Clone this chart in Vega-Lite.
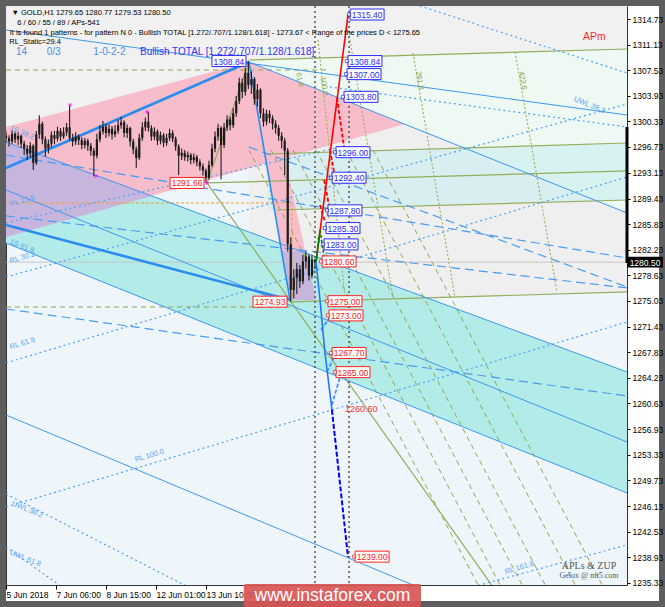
{
"$schema": "https://vega.github.io/schema/vega-lite/v6.json",
"width": 621, "height": 579,
"autosize": {"type": "none"},
"padding": {"left": 6, "top": 6, "right": 38, "bottom": 22},
"background": "#ffffff",
"config": {"view": {"stroke": "#333333", "strokeWidth": 1, "fill": "#eef6fc"}, "font": "Liberation Sans", "text": {"font": "Liberation Sans"},
 "axisX": {"labelOverlap": false, "grid": false, "domain": false, "labelFontSize": 8.5, "labelFont": "Liberation Sans", "labelColor": "#000000", "tickColor": "#000000", "tickSize": 4, "labelBound": false, "labelFlush": false, "labelAlign": "left", "labelPadding": 1},
 "axisY": {"labelOverlap": false, "grid": false, "domain": false, "labelFontSize": 8.5, "labelFont": "Liberation Sans", "labelColor": "#000000", "tickColor": "#000000", "tickSize": 3, "labelBound": false, "labelFlush": false, "labelPadding": 2}},
"datasets": {
"bgGray": [{"i":0,"top":1316.6,"bot":1299.55},{"i":160.4,"top":1316.6,"bot":1308.71},{"i":410,"top":1316.6,"bot":1310.54}],
"bandGray": [{"i":160.4,"top":1308.99,"bot":1274.71},{"i":410,"top":1310.54,"bot":1276.30}],
"mint": [{"i":160.4,"top":1308.99,"bot":1308.71},{"i":410,"top":1310.54,"bot":1287.43}],
"cyanLight": [{"i":172.3,"top":1295.74,"bot":1287.80},{"i":410,"top":1297.29,"bot":1289.26}],
"cyanBand": [{"i":0,"top":1297.43,"bot":1283.20},{"i":410,"top":1265.02,"bot":1247.97}],
"pink": [{"i":0,"top":1299.55,"bot":1284.05},{"i":160.4,"top":1308.71,"bot":1293.74},{"i":263.4,"top":1299.97,"bot":1299.97}],
"pinkStrip": [{"p":1295.74,"x1":170.9,"x2":183.5},{"p":1275.17,"x1":187.5,"x2":204.7}],
"purple": [{"i":0,"top":1297.43,"bot":1284.05},{"i":96.4,"top":1289.83,"bot":1289.83}],
"purpleStrip": [{"p":1282.07,"x1":181.9,"x2":197.6},{"p":1275.17,"x1":187.5,"x2":204.7}],
"blueSolid": [
{"g":"b1","i":0,"p":1313.22},{"g":"b1","i":410,"p":1301.24},
{"g":"b2","i":160.4,"p":1308.71},{"g":"b2","i":410,"p":1287.43},
{"g":"b3","i":0,"p":1297.43},{"g":"b3","i":410,"p":1265.02},
{"g":"b4","i":0,"p":1283.20},{"g":"b4","i":410,"p":1247.97},
{"g":"b5","i":0,"p":1290.67},{"g":"b5","i":410,"p":1255.16},
{"g":"b6","i":0,"p":1258.96},{"g":"b6","i":279.9,"p":1234.0}],
"patternBlue": [{"g":"pb","i":160.4,"p":1308.71},{"g":"pb","i":187.5,"p":1275.17}],
"thickBlue": [{"g":"t1","i":0,"p":1293.77},{"g":"t1","i":160.4,"p":1308.71},{"g":"t2","i":0,"p":1285.74},{"g":"t2","i":187.5,"p":1275.17}],
"blueDashed": [
{"g":"d1","i":0,"p":1273.90},{"g":"d1","i":410,"p":1261.64},
{"g":"d2","i":0,"p":1287.01},{"g":"d2","i":410,"p":1276.86},
{"g":"d3","i":0,"p":1295.60},{"g":"d3","i":410,"p":1281.09},
{"g":"d4","i":160.4,"p":1296.73},{"g":"d4","i":410,"p":1277.00}],
"blueDotted": [
{"g":"r0","i":0,"p":1286.02},{"g":"r0","i":220.5,"p":1296.73},
{"g":"r1","i":0,"p":1278.41},{"g":"r1","i":410,"p":1302.79},
{"g":"r2","i":0,"p":1266.30},{"g":"r2","i":410,"p":1292.50},
{"g":"r3","i":0,"p":1246.00},{"g":"r3","i":410,"p":1272.07},
{"g":"r4","i":193.9,"p":1228.1},{"g":"r4","i":410,"p":1240.65},
{"g":"u1","i":213.9,"p":1305.19},{"g":"u1","i":410,"p":1299.55},
{"g":"u2","i":273.3,"p":1316.6},{"g":"u2","i":410,"p":1307.16},
{"g":"u3","i":0,"p":1247.83},{"g":"u3","i":133.4,"p":1233.30},
{"g":"u4","i":0,"p":1240.37},{"g":"u4","i":46.2,"p":1233.30}],
"oliveSolid": [
{"g":"G1","i":160.4,"p":1308.99},{"g":"G1","i":410,"p":1310.54},
{"g":"G2","i":172.3,"p":1295.74},{"g":"G2","i":410,"p":1297.29},
{"g":"G3","i":132.7,"p":1291.66},{"g":"G3","i":410,"p":1293.35},
{"g":"G4","i":178.9,"p":1287.85},{"g":"G4","i":410,"p":1289.26},
{"g":"G5","i":187.5,"p":1274.89},{"g":"G5","i":410,"p":1276.30},
{"g":"O1","i":132.7,"p":1291.66},{"g":"O1","i":321.5,"p":1234.73},
{"g":"O2","i":132.7,"p":1291.66},{"g":"O2","i":160.4,"p":1308.71}],
"oliveDashed": [
{"g":"OD1","i":0,"p":1307.58},{"g":"OD1","i":213.9,"p":1307.58},
{"g":"OD2","i":0,"p":1274.18},{"g":"OD2","i":187.5,"p":1274.18},
{"g":"F1","i":160.4,"p":1296.31},{"g":"F1","i":316.9,"p":1232.89},
{"g":"F2","i":175.0,"p":1296.31},{"g":"F2","i":331.4,"p":1232.89},
{"g":"F3","i":189.5,"p":1296.31},{"g":"F3","i":346.0,"p":1232.89},
{"g":"F4","i":204.7,"p":1296.31},{"g":"F4","i":361.2,"p":1232.89},
{"g":"F5","i":224.5,"p":1296.31},{"g":"F5","i":381.0,"p":1232.89},
{"g":"F6","i":242.3,"p":1296.31},{"g":"F6","i":398.8,"p":1232.89}],
"oliveDotted": [
{"g":"V1","i":206.0,"p":1311.81},{"g":"V1","i":223.8,"p":1275.59},
{"g":"V2","i":227.1,"p":1311.81},{"g":"V2","i":255.5,"p":1275.59},
{"g":"V3","i":268.7,"p":1309.98},{"g":"V3","i":296.4,"p":1275.59},
{"g":"V4","i":336.1,"p":1310.12},{"g":"V4","i":363.8,"p":1276.30}],
"orangeDashed": [{"g":"h","i":0,"p":1288.84},{"g":"h","i":188.8,"p":1288.84},{"g":"v","i":188.8,"p":1288.84},{"g":"v","i":188.8,"p":1275.17}],
"projRed": [{"g":"a","i":204.7,"p":1280.52},{"g":"a","i":225.8,"p":1315.33}],
"projRedDash": [
{"g":"a","i":218.5,"p":1303.64},{"g":"a","i":223.2,"p":1296.73},
{"g":"b","i":213.9,"p":1296.31},{"g":"b","i":217.2,"p":1292.50},
{"g":"c","i":210.0,"p":1292.08},{"g":"c","i":213.2,"p":1288.56},
{"g":"d","i":207.3,"p":1288.56},{"g":"d","i":210.6,"p":1286.16}],
"projGreen": [{"g":"a","i":204.7,"p":1280.52},{"g":"a","i":207.3,"p":1285.03}],
"projGreenDash": [{"g":"a","i":207.3,"p":1285.03},{"g":"a","i":210.6,"p":1280.52}],
"projBlue": [{"g":"a","i":204.7,"p":1280.52},{"g":"a","i":207.3,"p":1275.17},{"g":"a","i":210.6,"p":1267.70},{"g":"a","i":215.2,"p":1259.67}],
"projBlueDash": [
{"g":"a","i":208.0,"p":1270.94},{"g":"a","i":213.9,"p":1272.77},
{"g":"b","i":211.9,"p":1265.02},{"g":"b","i":217.2,"p":1267.42},
{"g":"c","i":215.2,"p":1260.37},{"g":"c","i":220.5,"p":1264.32}],
"projDarkBlue": [{"g":"a","i":215.2,"p":1259.67},{"g":"a","i":225.8,"p":1238.95}],
"vlines": [{"i":204.0},{"i":226.5}],
"extremes": [{"i":42.3,"p":1302.65},{"i":59.4,"p":1292.64},{"i":93.1,"p":1301.66},{"i":132.7,"p":1291.66}],
"candles": [
{"i":0,"o":1298.3,"h":1298.9,"l":1297.4,"c":1298.0},
{"i":2,"o":1298.0,"h":1298.4,"l":1296.8,"c":1297.5},
{"i":4,"o":1297.5,"h":1299.1,"l":1297.2,"c":1298.6},
{"i":6,"o":1298.6,"h":1298.9,"l":1297.3,"c":1297.8},
{"i":8,"o":1297.8,"h":1298.8,"l":1297.0,"c":1298.3},
{"i":10,"o":1298.3,"h":1298.5,"l":1296.6,"c":1297.2},
{"i":12,"o":1297.2,"h":1297.6,"l":1295.6,"c":1296.5},
{"i":14,"o":1296.5,"h":1297.0,"l":1294.9,"c":1295.8},
{"i":16,"o":1295.8,"h":1297.4,"l":1295.2,"c":1296.9},
{"i":18,"o":1296.9,"h":1297.1,"l":1293.5,"c":1294.5},
{"i":20,"o":1294.5,"h":1299.0,"l":1294.2,"c":1298.5},
{"i":22,"o":1298.5,"h":1301.2,"l":1297.9,"c":1300.0},
{"i":24,"o":1300.0,"h":1300.3,"l":1297.1,"c":1297.8},
{"i":26,"o":1297.8,"h":1298.2,"l":1295.4,"c":1296.5},
{"i":28,"o":1296.5,"h":1297.8,"l":1295.8,"c":1297.2},
{"i":30,"o":1297.2,"h":1298.9,"l":1296.7,"c":1298.4},
{"i":32,"o":1298.4,"h":1299.0,"l":1297.1,"c":1297.9},
{"i":34,"o":1297.9,"h":1299.6,"l":1297.5,"c":1299.0},
{"i":36,"o":1299.0,"h":1299.4,"l":1297.6,"c":1298.2},
{"i":38,"o":1298.2,"h":1299.5,"l":1297.9,"c":1298.8},
{"i":40,"o":1298.8,"h":1300.1,"l":1298.3,"c":1299.5},
{"i":42,"o":1299.5,"h":1302.6,"l":1297.6,"c":1298.0},
{"i":44,"o":1298.0,"h":1298.6,"l":1296.8,"c":1297.5},
{"i":46,"o":1297.5,"h":1298.8,"l":1297.0,"c":1298.2},
{"i":48,"o":1298.2,"h":1298.5,"l":1297.0,"c":1297.7},
{"i":50,"o":1297.7,"h":1298.1,"l":1296.4,"c":1297.0},
{"i":52,"o":1297.0,"h":1298.0,"l":1296.5,"c":1297.6},
{"i":54,"o":1297.6,"h":1297.9,"l":1296.2,"c":1296.9},
{"i":56,"o":1296.9,"h":1297.3,"l":1295.5,"c":1296.2},
{"i":58,"o":1296.2,"h":1296.6,"l":1292.6,"c":1295.5},
{"i":60,"o":1295.5,"h":1298.6,"l":1295.1,"c":1297.8},
{"i":62,"o":1297.8,"h":1299.8,"l":1297.4,"c":1298.9},
{"i":64,"o":1298.9,"h":1300.4,"l":1298.5,"c":1299.6},
{"i":66,"o":1299.6,"h":1300.0,"l":1298.0,"c":1298.7},
{"i":68,"o":1298.7,"h":1299.9,"l":1298.2,"c":1299.3},
{"i":70,"o":1299.3,"h":1299.7,"l":1297.8,"c":1298.5},
{"i":72,"o":1298.5,"h":1299.8,"l":1298.1,"c":1299.0},
{"i":74,"o":1299.0,"h":1300.6,"l":1298.6,"c":1299.8},
{"i":76,"o":1299.8,"h":1301.0,"l":1299.3,"c":1300.2},
{"i":78,"o":1300.2,"h":1300.5,"l":1298.1,"c":1298.7},
{"i":80,"o":1298.7,"h":1299.9,"l":1298.0,"c":1299.4},
{"i":82,"o":1299.4,"h":1299.6,"l":1296.8,"c":1297.5},
{"i":84,"o":1297.5,"h":1297.9,"l":1295.7,"c":1296.4},
{"i":86,"o":1296.4,"h":1296.8,"l":1293.8,"c":1295.2},
{"i":88,"o":1295.2,"h":1298.6,"l":1294.9,"c":1298.0},
{"i":90,"o":1298.0,"h":1300.2,"l":1297.6,"c":1299.5},
{"i":92,"o":1299.5,"h":1300.9,"l":1299.0,"c":1300.3},
{"i":94,"o":1300.3,"h":1301.7,"l":1298.9,"c":1299.4},
{"i":96,"o":1299.4,"h":1299.8,"l":1297.6,"c":1298.2},
{"i":98,"o":1298.2,"h":1299.5,"l":1297.7,"c":1298.9},
{"i":100,"o":1298.9,"h":1299.2,"l":1297.0,"c":1297.6},
{"i":102,"o":1297.6,"h":1298.9,"l":1297.1,"c":1298.4},
{"i":104,"o":1298.4,"h":1298.7,"l":1296.7,"c":1297.3},
{"i":106,"o":1297.3,"h":1298.6,"l":1296.9,"c":1298.0},
{"i":108,"o":1298.0,"h":1299.3,"l":1297.6,"c":1298.7},
{"i":110,"o":1298.7,"h":1299.1,"l":1297.4,"c":1297.9},
{"i":112,"o":1297.9,"h":1298.2,"l":1296.2,"c":1296.8},
{"i":114,"o":1296.8,"h":1297.1,"l":1292.8,"c":1295.5},
{"i":116,"o":1295.5,"h":1296.5,"l":1294.9,"c":1295.9},
{"i":118,"o":1295.9,"h":1296.3,"l":1294.8,"c":1295.3},
{"i":120,"o":1295.3,"h":1296.1,"l":1294.7,"c":1295.6},
{"i":122,"o":1295.6,"h":1295.9,"l":1294.3,"c":1294.9},
{"i":124,"o":1294.9,"h":1295.8,"l":1294.4,"c":1295.3},
{"i":126,"o":1295.3,"h":1295.6,"l":1294.0,"c":1294.6},
{"i":128,"o":1294.6,"h":1295.0,"l":1293.4,"c":1294.0},
{"i":130,"o":1294.0,"h":1294.4,"l":1292.7,"c":1293.4},
{"i":132,"o":1293.4,"h":1293.7,"l":1291.66,"c":1292.4},
{"i":134,"o":1292.4,"h":1294.8,"l":1292.1,"c":1294.2},
{"i":136,"o":1294.2,"h":1297.2,"l":1293.9,"c":1296.5},
{"i":138,"o":1296.5,"h":1298.9,"l":1296.0,"c":1298.2},
{"i":140,"o":1298.2,"h":1300.0,"l":1297.6,"c":1299.4},
{"i":142,"o":1299.4,"h":1299.7,"l":1292.2,"c":1297.0},
{"i":144,"o":1297.0,"h":1300.1,"l":1296.6,"c":1299.5},
{"i":146,"o":1299.5,"h":1301.2,"l":1299.0,"c":1300.6},
{"i":148,"o":1300.6,"h":1301.0,"l":1299.1,"c":1299.8},
{"i":150,"o":1299.8,"h":1302.2,"l":1299.4,"c":1301.5},
{"i":152,"o":1301.5,"h":1303.9,"l":1301.0,"c":1303.2},
{"i":154,"o":1303.2,"h":1306.5,"l":1302.8,"c":1305.8},
{"i":156,"o":1305.8,"h":1306.4,"l":1303.6,"c":1304.5},
{"i":158,"o":1304.5,"h":1307.9,"l":1304.0,"c":1307.2},
{"i":160,"o":1307.2,"h":1308.84,"l":1304.9,"c":1305.5},
{"i":162,"o":1305.5,"h":1307.4,"l":1304.2,"c":1306.3},
{"i":164,"o":1306.3,"h":1306.6,"l":1302.7,"c":1303.5},
{"i":166,"o":1303.5,"h":1305.6,"l":1302.4,"c":1304.8},
{"i":168,"o":1304.8,"h":1305.0,"l":1300.8,"c":1301.5},
{"i":170,"o":1301.5,"h":1302.2,"l":1299.6,"c":1300.3},
{"i":172,"o":1300.3,"h":1302.0,"l":1299.8,"c":1301.4},
{"i":174,"o":1301.4,"h":1301.9,"l":1300.1,"c":1300.8},
{"i":176,"o":1300.8,"h":1301.2,"l":1299.2,"c":1300.0},
{"i":178,"o":1300.0,"h":1300.5,"l":1298.6,"c":1299.4},
{"i":180,"o":1299.4,"h":1299.8,"l":1297.6,"c":1298.3},
{"i":182,"o":1298.3,"h":1298.8,"l":1296.5,"c":1297.6},
{"i":184,"o":1297.6,"h":1298.0,"l":1292.8,"c":1296.2},
{"i":186,"o":1296.2,"h":1296.6,"l":1282.0,"c":1283.0},
{"i":188,"o":1283.0,"h":1284.0,"l":1274.93,"c":1276.6},
{"i":190,"o":1276.6,"h":1279.5,"l":1275.4,"c":1278.3},
{"i":192,"o":1278.3,"h":1280.4,"l":1276.0,"c":1279.5},
{"i":194,"o":1279.5,"h":1280.1,"l":1276.9,"c":1277.8},
{"i":196,"o":1277.8,"h":1281.5,"l":1277.4,"c":1280.6},
{"i":198,"o":1280.6,"h":1282.0,"l":1279.6,"c":1281.3},
{"i":200,"o":1281.3,"h":1281.6,"l":1277.9,"c":1278.6},
{"i":202,"o":1278.6,"h":1281.5,"l":1278.2,"c":1280.9},
{"i":204,"o":1280.9,"h":1280.8,"l":1279.5,"c":1280.5}],
"targets": [
{"i":226.5,"p":1315.40,"dir":"up"},
{"i":225.1,"p":1308.84,"dir":"up"},
{"i":224.5,"p":1307.00,"dir":"up"},
{"i":222.5,"p":1303.80,"dir":"up"},
{"i":217.2,"p":1296.00,"dir":"up"},
{"i":214.6,"p":1292.40,"dir":"up"},
{"i":211.9,"p":1287.80,"dir":"up"},
{"i":210.6,"p":1285.30,"dir":"up"},
{"i":209.3,"p":1283.00,"dir":"up"},
{"i":208.0,"p":1280.60,"dir":"down"},
{"i":211.9,"p":1275.00,"dir":"down"},
{"i":212.6,"p":1273.00,"dir":"down"},
{"i":214.6,"p":1267.70,"dir":"down"},
{"i":217.2,"p":1265.00,"dir":"down"},
{"i":229.8,"p":1239.00,"dir":"down"}],
"pivots": [
{"i":159.1,"p":1308.84,"dir":"up"},
{"i":131.4,"p":1291.66,"dir":"down"},
{"i":186.2,"p":1274.93,"dir":"down"}],
"hdr": [
{"t":"\u25bc  GOLD,H1  1279.65 1280.77 1279.53 1280.50","i":3.6,"p":1315.62},
{"t":"6 / 60 / 55 / 89 / APs-541","i":7.5,"p":1314.16},
{"t":"It is found 1 patterns  -  for pattern N 0 - Bullish TOTAL [1.272/.707/1.128/1.618] - 1273.67 < Range of the prices D < 1275.65","i":2.4,"p":1312.84},
{"t":"RL_Static=29.4","i":2.2,"p":1311.57}],
"hdrBlue": [{"t":"14","i":6.6,"p":1310.16},{"t":"0/3","i":26.9,"p":1310.16},{"t":"1-0-2-2","i":57.6,"p":1310.16}],
"hdrTotal": [{"t":"Bullish TOTAL [1.272/.707/1.128/1.618]","i":88.5,"p":1310.16}],
"riseLabels": [{"t":"RL 23.6","i":2.6,"p":1288.6},{"t":"RL 30.2","i":2.6,"p":1280.6},{"t":"RL 61.8","i":2.6,"p":1268.5},{"t":"RL 100.0","i":85.2,"p":1252.6},{"t":"RL 161.8","i":329.5,"p":1236.8}],
"fallLabels": [{"t":"1S 38.2","i":2.6,"p":1299.4},{"t":"1S 61.8","i":2.6,"p":1283.4},{"t":"UWL 38.2","i":4.0,"p":1246.5},{"t":"UWL 61.8","i":2.6,"p":1239.6},{"t":"UWL 38.2","i":375.0,"p":1303.5}],
"zoneLabels": [{"t":"61.8","i":193.0,"p":1307.2},{"t":"100.0","i":209.0,"p":1306.6},{"t":"261.8","i":272.0,"p":1307.4},{"t":"423.6","i":340.0,"p":1307.4}]
},
"layer": [
{"data":{"name":"bgGray"},"mark":{"type":"area","color":"#f1f1f1","clip":true},
 "encoding":{
  "x":{"field":"i","type":"quantitative","title":null,"scale":{"domain":[0,410],"nice":false,"zero":false},
   "axis":{"orient":"bottom","values":[0,33,66,99,132],"tickCount":20,"labelExpr":"datum.value == 0 ? '5 Jun 2018' : datum.value == 33 ? '7 Jun 06:00' : datum.value == 66 ? '8 Jun 15:00' : datum.value == 99 ? '12 Jun 01:00' : '13 Jun 10:00'","labelAlign":"left","labelOverlap":false,"grid":false,"domain":false,"title":null,"zindex":0}},
  "y":{"field":"top","type":"quantitative","title":null,"stack":null,"scale":{"domain":[1235,1316.6],"nice":false,"zero":false},
   "axis":{"orient":"right","values":[1314.73,1311.13,1307.53,1303.93,1300.33,1296.73,1293.13,1289.43,1285.83,1282.23,1278.63,1275.03,1271.43,1267.83,1264.23,1260.63,1256.93,1253.33,1249.73,1246.13,1242.53,1238.93,1235.33],"tickCount":40,"format":".2f","labelOverlap":false,"grid":false,"domain":false,"title":null,"zindex":1}},
  "y2":{"field":"bot"}}},
{"data":{"name":"bandGray"},"mark":{"type":"area","color":"#efefef","clip":true},
 "encoding":{"x":{"field":"i","type":"quantitative","title":null,"scale":{"domain":[0,410],"nice":false,"zero":false}},"y":{"field":"top","type":"quantitative","title":null,"stack":null,"scale":{"domain":[1235,1316.6],"nice":false,"zero":false}},"y2":{"field":"bot"}}},
{"data":{"name":"mint"},"mark":{"type":"area","color":"#edf9f2","clip":true},
 "encoding":{"x":{"field":"i","type":"quantitative","title":null,"scale":{"domain":[0,410],"nice":false,"zero":false}},"y":{"field":"top","type":"quantitative","title":null,"stack":null,"scale":{"domain":[1235,1316.6],"nice":false,"zero":false}},"y2":{"field":"bot"}}},
{"data":{"name":"cyanLight"},"mark":{"type":"area","color":"#c9ecf2","opacity":0.6,"clip":true},
 "encoding":{"x":{"field":"i","type":"quantitative","title":null,"scale":{"domain":[0,410],"nice":false,"zero":false}},"y":{"field":"top","type":"quantitative","title":null,"stack":null,"scale":{"domain":[1235,1316.6],"nice":false,"zero":false}},"y2":{"field":"bot"}}},
{"data":{"name":"cyanBand"},"mark":{"type":"area","color":"#b2ebe7","clip":true},
 "encoding":{"x":{"field":"i","type":"quantitative","title":null,"scale":{"domain":[0,410],"nice":false,"zero":false}},"y":{"field":"top","type":"quantitative","title":null,"stack":null,"scale":{"domain":[1235,1316.6],"nice":false,"zero":false}},"y2":{"field":"bot"}}},
{"data":{"name":"pink"},"mark":{"type":"area","color":"#f8bdcb","clip":true},
 "encoding":{"x":{"field":"i","type":"quantitative","title":null,"scale":{"domain":[0,410],"nice":false,"zero":false}},"y":{"field":"top","type":"quantitative","title":null,"stack":null,"scale":{"domain":[1235,1316.6],"nice":false,"zero":false}},"y2":{"field":"bot"}}},
{"data":{"name":"pinkStrip"},"mark":{"type":"area","orient":"horizontal","color":"#f8bdcb","clip":true},
 "encoding":{"y":{"field":"p","type":"quantitative","title":null,"scale":{"domain":[1235,1316.6],"nice":false,"zero":false}},"x":{"field":"x1","type":"quantitative","title":null,"stack":null,"scale":{"domain":[0,410],"nice":false,"zero":false}},"x2":{"field":"x2"}}},
{"data":{"name":"purple"},"mark":{"type":"area","color":"#c8b5de","clip":true},
 "encoding":{"x":{"field":"i","type":"quantitative","title":null,"scale":{"domain":[0,410],"nice":false,"zero":false}},"y":{"field":"top","type":"quantitative","title":null,"stack":null,"scale":{"domain":[1235,1316.6],"nice":false,"zero":false}},"y2":{"field":"bot"}}},
{"data":{"name":"purpleStrip"},"mark":{"type":"area","orient":"horizontal","color":"#c8b5de","clip":true},
 "encoding":{"y":{"field":"p","type":"quantitative","title":null,"scale":{"domain":[1235,1316.6],"nice":false,"zero":false}},"x":{"field":"x1","type":"quantitative","title":null,"stack":null,"scale":{"domain":[0,410],"nice":false,"zero":false}},"x2":{"field":"x2"}}},
{"data":{"values":[{"p":1280.5}]},"mark":{"type":"rule","color":"#c4c4c4","strokeWidth":1},
 "encoding":{"y":{"field":"p","type":"quantitative","title":null,"scale":{"domain":[1235,1316.6],"nice":false,"zero":false}}}},
{"data":{"name":"oliveDotted"},"mark":{"type":"line","color":"#8ea650","strokeWidth":1,"strokeDash":[2,2],"clip":true},
 "encoding":{"x":{"field":"i","type":"quantitative","title":null,"scale":{"domain":[0,410],"nice":false,"zero":false}},"y":{"field":"p","type":"quantitative","title":null,"scale":{"domain":[1235,1316.6],"nice":false,"zero":false}},"detail":{"field":"g"}}},
{"data":{"name":"oliveDashed"},"mark":{"type":"line","color":"#8ea650","strokeWidth":1,"strokeDash":[5,4],"clip":true},
 "encoding":{"x":{"field":"i","type":"quantitative","title":null,"scale":{"domain":[0,410],"nice":false,"zero":false}},"y":{"field":"p","type":"quantitative","title":null,"scale":{"domain":[1235,1316.6],"nice":false,"zero":false}},"detail":{"field":"g"}}},
{"data":{"name":"oliveSolid"},"mark":{"type":"line","color":"#93ad5c","strokeWidth":1.2,"clip":true},
 "encoding":{"x":{"field":"i","type":"quantitative","title":null,"scale":{"domain":[0,410],"nice":false,"zero":false}},"y":{"field":"p","type":"quantitative","title":null,"scale":{"domain":[1235,1316.6],"nice":false,"zero":false}},"detail":{"field":"g"}}},
{"data":{"name":"orangeDashed"},"mark":{"type":"line","color":"#f0a030","strokeWidth":1,"strokeDash":[3,2],"clip":true},
 "encoding":{"x":{"field":"i","type":"quantitative","title":null,"scale":{"domain":[0,410],"nice":false,"zero":false}},"y":{"field":"p","type":"quantitative","title":null,"scale":{"domain":[1235,1316.6],"nice":false,"zero":false}},"detail":{"field":"g"}}},
{"data":{"name":"blueDotted"},"mark":{"type":"line","color":"#4ba2f5","strokeWidth":1.2,"strokeDash":[2,3],"clip":true},
 "encoding":{"x":{"field":"i","type":"quantitative","title":null,"scale":{"domain":[0,410],"nice":false,"zero":false}},"y":{"field":"p","type":"quantitative","title":null,"scale":{"domain":[1235,1316.6],"nice":false,"zero":false}},"detail":{"field":"g"}}},
{"data":{"name":"blueDashed"},"mark":{"type":"line","color":"#4a9cf0","strokeWidth":1.2,"strokeDash":[9,5],"clip":true},
 "encoding":{"x":{"field":"i","type":"quantitative","title":null,"scale":{"domain":[0,410],"nice":false,"zero":false}},"y":{"field":"p","type":"quantitative","title":null,"scale":{"domain":[1235,1316.6],"nice":false,"zero":false}},"detail":{"field":"g"}}},
{"data":{"name":"blueSolid"},"mark":{"type":"line","color":"#3d98ee","strokeWidth":1,"clip":true},
 "encoding":{"x":{"field":"i","type":"quantitative","title":null,"scale":{"domain":[0,410],"nice":false,"zero":false}},"y":{"field":"p","type":"quantitative","title":null,"scale":{"domain":[1235,1316.6],"nice":false,"zero":false}},"detail":{"field":"g"}}},
{"data":{"name":"thickBlue"},"mark":{"type":"line","color":"#2b8cf0","strokeWidth":2.6,"clip":true},
 "encoding":{"x":{"field":"i","type":"quantitative","title":null,"scale":{"domain":[0,410],"nice":false,"zero":false}},"y":{"field":"p","type":"quantitative","title":null,"scale":{"domain":[1235,1316.6],"nice":false,"zero":false}},"detail":{"field":"g"}}},
{"data":{"name":"patternBlue"},"mark":{"type":"line","color":"#2b8cf0","strokeWidth":1.6,"clip":true},
 "encoding":{"x":{"field":"i","type":"quantitative","title":null,"scale":{"domain":[0,410],"nice":false,"zero":false}},"y":{"field":"p","type":"quantitative","title":null,"scale":{"domain":[1235,1316.6],"nice":false,"zero":false}},"detail":{"field":"g"}}},
{"data":{"name":"vlines"},"mark":{"type":"rule","color":"#555555","strokeWidth":1.5,"strokeDash":[2,3]},
 "encoding":{"x":{"field":"i","type":"quantitative","title":null,"scale":{"domain":[0,410],"nice":false,"zero":false}}}},
{"data":{"name":"candles"},"mark":{"type":"rule","color":"#1c1c1c","strokeWidth":1.1,"clip":true},
 "encoding":{"x":{"field":"i","type":"quantitative","title":null,"scale":{"domain":[0,410],"nice":false,"zero":false}},"y":{"field":"h","type":"quantitative","title":null,"scale":{"domain":[1235,1316.6],"nice":false,"zero":false}},"y2":{"field":"l"}}},
{"data":{"name":"candles"},"mark":{"type":"rule","color":"#1c1c1c","strokeWidth":2.2,"clip":true},
 "encoding":{"x":{"field":"i","type":"quantitative","title":null,"scale":{"domain":[0,410],"nice":false,"zero":false}},"y":{"field":"o","type":"quantitative","title":null,"scale":{"domain":[1235,1316.6],"nice":false,"zero":false}},"y2":{"field":"c"}}},
{"data":{"name":"extremes"},"mark":{"type":"point","shape":"square","filled":true,"color":"#ff00ff","size":9},
 "encoding":{"x":{"field":"i","type":"quantitative","title":null,"scale":{"domain":[0,410],"nice":false,"zero":false}},"y":{"field":"p","type":"quantitative","title":null,"scale":{"domain":[1235,1316.6],"nice":false,"zero":false}}}},
{"data":{"name":"projBlueDash"},"mark":{"type":"line","color":"#3a86ff","strokeWidth":1.6,"strokeDash":[4,2],"clip":true},
 "encoding":{"x":{"field":"i","type":"quantitative","title":null,"scale":{"domain":[0,410],"nice":false,"zero":false}},"y":{"field":"p","type":"quantitative","title":null,"scale":{"domain":[1235,1316.6],"nice":false,"zero":false}},"detail":{"field":"g"}}},
{"data":{"name":"projBlue"},"mark":{"type":"line","color":"#1e78ff","strokeWidth":1.6,"clip":true},
 "encoding":{"x":{"field":"i","type":"quantitative","title":null,"scale":{"domain":[0,410],"nice":false,"zero":false}},"y":{"field":"p","type":"quantitative","title":null,"scale":{"domain":[1235,1316.6],"nice":false,"zero":false}},"detail":{"field":"g"}}},
{"data":{"name":"projDarkBlue"},"mark":{"type":"line","color":"#0000ff","strokeWidth":2,"strokeDash":[5,2],"clip":true},
 "encoding":{"x":{"field":"i","type":"quantitative","title":null,"scale":{"domain":[0,410],"nice":false,"zero":false}},"y":{"field":"p","type":"quantitative","title":null,"scale":{"domain":[1235,1316.6],"nice":false,"zero":false}},"detail":{"field":"g"}}},
{"data":{"name":"projRedDash"},"mark":{"type":"line","color":"#ff0000","strokeWidth":1.8,"strokeDash":[4,2],"clip":true},
 "encoding":{"x":{"field":"i","type":"quantitative","title":null,"scale":{"domain":[0,410],"nice":false,"zero":false}},"y":{"field":"p","type":"quantitative","title":null,"scale":{"domain":[1235,1316.6],"nice":false,"zero":false}},"detail":{"field":"g"}}},
{"data":{"name":"projRed"},"mark":{"type":"line","color":"#ff0000","strokeWidth":1.6,"clip":true},
 "encoding":{"x":{"field":"i","type":"quantitative","title":null,"scale":{"domain":[0,410],"nice":false,"zero":false}},"y":{"field":"p","type":"quantitative","title":null,"scale":{"domain":[1235,1316.6],"nice":false,"zero":false}},"detail":{"field":"g"}}},
{"data":{"name":"projGreenDash"},"mark":{"type":"line","color":"#008000","strokeWidth":1.6,"strokeDash":[3,2],"clip":true},
 "encoding":{"x":{"field":"i","type":"quantitative","title":null,"scale":{"domain":[0,410],"nice":false,"zero":false}},"y":{"field":"p","type":"quantitative","title":null,"scale":{"domain":[1235,1316.6],"nice":false,"zero":false}},"detail":{"field":"g"}}},
{"data":{"name":"projGreen"},"mark":{"type":"line","color":"#008000","strokeWidth":1.6,"clip":true},
 "encoding":{"x":{"field":"i","type":"quantitative","title":null,"scale":{"domain":[0,410],"nice":false,"zero":false}},"y":{"field":"p","type":"quantitative","title":null,"scale":{"domain":[1235,1316.6],"nice":false,"zero":false}},"detail":{"field":"g"}}},
{"data":{"name":"targets"},"mark":{"type":"point","shape":"M-1,-0.324L1,-0.324L1,0.324L-1,0.324Z","size":1156,"filled":true,"fill":"#ffffff","fillOpacity":0.92,"strokeWidth":1,"xOffset":18},
 "encoding":{"x":{"field":"i","type":"quantitative","title":null,"scale":{"domain":[0,410],"nice":false,"zero":false}},"y":{"field":"p","type":"quantitative","title":null,"scale":{"domain":[1235,1316.6],"nice":false,"zero":false}},
  "stroke":{"field":"dir","type":"nominal","scale":{"domain":["up","down"],"range":["#2a2aff","#ff2020"]},"legend":null}}},
{"data":{"name":"targets"},"mark":{"type":"point","shape":"square","size":10,"filled":true,"fill":"#ffffff","strokeWidth":1},
 "encoding":{"x":{"field":"i","type":"quantitative","title":null,"scale":{"domain":[0,410],"nice":false,"zero":false}},"y":{"field":"p","type":"quantitative","title":null,"scale":{"domain":[1235,1316.6],"nice":false,"zero":false}},
  "stroke":{"field":"dir","type":"nominal","scale":{"domain":["up","down"],"range":["#2a2aff","#ff2020"]},"legend":null}}},
{"data":{"name":"targets"},"mark":{"type":"text","fontSize":8.5,"align":"center","baseline":"middle","dx":18,"dy":0.5},
 "encoding":{"x":{"field":"i","type":"quantitative","title":null,"scale":{"domain":[0,410],"nice":false,"zero":false}},"y":{"field":"p","type":"quantitative","title":null,"scale":{"domain":[1235,1316.6],"nice":false,"zero":false}},
  "text":{"field":"p","type":"quantitative","format":".2f"},
  "color":{"field":"dir","type":"nominal","scale":{"domain":["up","down"],"range":["#2a2aff","#ff2020"]},"legend":null}}},
{"data":{"name":"pivots"},"mark":{"type":"point","shape":"M-1,-0.324L1,-0.324L1,0.324L-1,0.324Z","size":1156,"filled":true,"fill":"#ffffff","fillOpacity":0.92,"strokeWidth":1,"xOffset":-18},
 "encoding":{"x":{"field":"i","type":"quantitative","title":null,"scale":{"domain":[0,410],"nice":false,"zero":false}},"y":{"field":"p","type":"quantitative","title":null,"scale":{"domain":[1235,1316.6],"nice":false,"zero":false}},
  "stroke":{"field":"dir","type":"nominal","scale":{"domain":["up","down"],"range":["#2a2aff","#ff2020"]},"legend":null}}},
{"data":{"name":"pivots"},"mark":{"type":"text","fontSize":8.5,"align":"center","baseline":"middle","dx":-18,"dy":0.5},
 "encoding":{"x":{"field":"i","type":"quantitative","title":null,"scale":{"domain":[0,410],"nice":false,"zero":false}},"y":{"field":"p","type":"quantitative","title":null,"scale":{"domain":[1235,1316.6],"nice":false,"zero":false}},
  "text":{"field":"p","type":"quantitative","format":".2f"},
  "color":{"field":"dir","type":"nominal","scale":{"domain":["up","down"],"range":["#2a2aff","#ff2020"]},"legend":null}}},
{"data":{"values":[{"i":223.8,"p":1260.6}]},"mark":{"type":"text","fontSize":9,"align":"left","baseline":"middle","dy":6,"color":"#ff3030"},
 "encoding":{"x":{"field":"i","type":"quantitative","title":null,"scale":{"domain":[0,410],"nice":false,"zero":false}},"y":{"field":"p","type":"quantitative","title":null,"scale":{"domain":[1235,1316.6],"nice":false,"zero":false}},"text":{"field":"p","type":"quantitative","format":".2f"}}},
{"data":{"name":"riseLabels"},"mark":{"type":"text","fontSize":7.5,"align":"left","baseline":"middle","angle":343,"color":"#5aa5f0"},
 "encoding":{"x":{"field":"i","type":"quantitative","title":null,"scale":{"domain":[0,410],"nice":false,"zero":false}},"y":{"field":"p","type":"quantitative","title":null,"scale":{"domain":[1235,1316.6],"nice":false,"zero":false}},"text":{"field":"t"}}},
{"data":{"name":"fallLabels"},"mark":{"type":"text","fontSize":7.5,"align":"left","baseline":"middle","angle":22,"color":"#5aa5f0"},
 "encoding":{"x":{"field":"i","type":"quantitative","title":null,"scale":{"domain":[0,410],"nice":false,"zero":false}},"y":{"field":"p","type":"quantitative","title":null,"scale":{"domain":[1235,1316.6],"nice":false,"zero":false}},"text":{"field":"t"}}},
{"data":{"name":"zoneLabels"},"mark":{"type":"text","fontSize":7.5,"align":"left","baseline":"middle","angle":80,"color":"#8ea650"},
 "encoding":{"x":{"field":"i","type":"quantitative","title":null,"scale":{"domain":[0,410],"nice":false,"zero":false}},"y":{"field":"p","type":"quantitative","title":null,"scale":{"domain":[1235,1316.6],"nice":false,"zero":false}},"text":{"field":"t"}}},
{"data":{"name":"hdr"},"mark":{"type":"text","fontSize":7.5,"align":"left","baseline":"middle","color":"#000000","clip":false},
 "encoding":{"x":{"field":"i","type":"quantitative","title":null,"scale":{"domain":[0,410],"nice":false,"zero":false}},"y":{"field":"p","type":"quantitative","title":null,"scale":{"domain":[1235,1316.6],"nice":false,"zero":false}},"text":{"field":"t"}}},
{"data":{"name":"hdrBlue"},"mark":{"type":"text","fontSize":10,"align":"left","baseline":"middle","color":"#4a90e6"},
 "encoding":{"x":{"field":"i","type":"quantitative","title":null,"scale":{"domain":[0,410],"nice":false,"zero":false}},"y":{"field":"p","type":"quantitative","title":null,"scale":{"domain":[1235,1316.6],"nice":false,"zero":false}},"text":{"field":"t"}}},
{"data":{"name":"hdrTotal"},"mark":{"type":"text","fontSize":10,"align":"left","baseline":"middle","color":"#3333ff"},
 "encoding":{"x":{"field":"i","type":"quantitative","title":null,"scale":{"domain":[0,410],"nice":false,"zero":false}},"y":{"field":"p","type":"quantitative","title":null,"scale":{"domain":[1235,1316.6],"nice":false,"zero":false}},"text":{"field":"t"}}},
{"data":{"values":[{}]},"mark":{"type":"text","text":"APm","fontSize":10.5,"align":"left","baseline":"middle","color":"#ff2a2a"},
 "encoding":{"x":{"datum":381.0,"type":"quantitative","title":null,"scale":{"domain":[0,410],"nice":false,"zero":false}},"y":{"datum":1312.3,"type":"quantitative","title":null,"scale":{"domain":[1235,1316.6],"nice":false,"zero":false}}}},
{"data":{"values":[{}]},"mark":{"type":"text","text":"APLs & ZUP","fontSize":10,"font":"Liberation Serif","align":"center","baseline":"middle","color":"#555555"},
 "encoding":{"x":{"datum":384.9,"type":"quantitative","title":null,"scale":{"domain":[0,410],"nice":false,"zero":false}},"y":{"datum":1237.7,"type":"quantitative","title":null,"scale":{"domain":[1235,1316.6],"nice":false,"zero":false}}}},
{"data":{"values":[{}]},"mark":{"type":"text","text":"Gelox @ mt5.com","fontSize":8,"font":"Liberation Serif","align":"center","baseline":"middle","color":"#555555"},
 "encoding":{"x":{"datum":384.9,"type":"quantitative","title":null,"scale":{"domain":[0,410],"nice":false,"zero":false}},"y":{"datum":1236.2,"type":"quantitative","title":null,"scale":{"domain":[1235,1316.6],"nice":false,"zero":false}}}},
{"data":{"values":[{}]},"mark":{"type":"rule","color":"#000000","strokeWidth":3,"clip":false},
 "encoding":{"x":{"datum":410,"type":"quantitative","title":null,"scale":{"domain":[0,410],"nice":false,"zero":false}},"y":{"datum":1299.55,"type":"quantitative","title":null,"scale":{"domain":[1235,1316.6],"nice":false,"zero":false}},"y2":{"datum":1280.38}}},
{"data":{"values":[{}]},"mark":{"type":"rect","filled":false,"stroke":"#5e5e5e","strokeWidth":6,"clip":false},
 "encoding":{"x":{"datum":-1.98,"type":"quantitative","title":null,"scale":{"domain":[0,410],"nice":false,"zero":false}},"x2":{"datum":433.1},"y":{"datum":1317.02,"type":"quantitative","title":null,"scale":{"domain":[1235,1316.6],"nice":false,"zero":false}},"y2":{"datum":1232.33}}},
{"data":{"values":[{}]},"mark":{"type":"point","shape":"M-1,-0.3L1,-0.3L1,0.3L-1,0.3Z","size":1296,"filled":true,"color":"#000000","opacity":1,"xOffset":18,"clip":false},
 "encoding":{"x":{"datum":410,"type":"quantitative","title":null,"scale":{"domain":[0,410],"nice":false,"zero":false}},"y":{"datum":1280.5,"type":"quantitative","title":null,"scale":{"domain":[1235,1316.6],"nice":false,"zero":false}}}},
{"data":{"values":[{}]},"mark":{"type":"text","text":"1280.50","fontSize":8.5,"align":"center","baseline":"middle","dx":18,"dy":0.5,"color":"#ffffff","clip":false},
 "encoding":{"x":{"datum":410,"type":"quantitative","title":null,"scale":{"domain":[0,410],"nice":false,"zero":false}},"y":{"datum":1280.5,"type":"quantitative","title":null,"scale":{"domain":[1235,1316.6],"nice":false,"zero":false}}}},
{"data":{"values":[{}]},"mark":{"type":"rect","color":"#d95454","opacity":0.92,"cornerRadius":2,"clip":false},
 "encoding":{"x":{"datum":157,"type":"quantitative","title":null,"scale":{"domain":[0,410],"nice":false,"zero":false}},"x2":{"datum":274},"y":{"datum":1235.15,"type":"quantitative","title":null,"scale":{"domain":[1235,1316.6],"nice":false,"zero":false}},"y2":{"datum":1231.9}}},
{"data":{"values":[{}]},"mark":{"type":"text","text":"www.instaforex.com","fontSize":17.5,"align":"center","baseline":"middle","color":"#ffffff","clip":false},
 "encoding":{"x":{"datum":215.5,"type":"quantitative","title":null,"scale":{"domain":[0,410],"nice":false,"zero":false}},"y":{"datum":1233.45,"type":"quantitative","title":null,"scale":{"domain":[1235,1316.6],"nice":false,"zero":false}}}}
]
}
